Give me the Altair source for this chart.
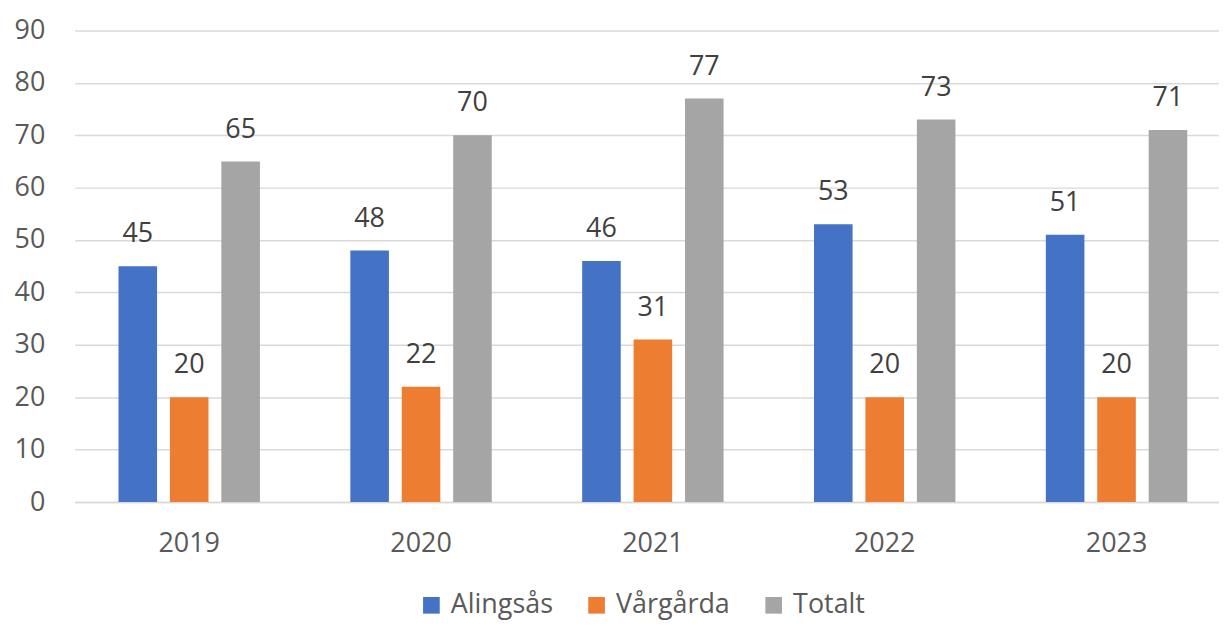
import altair as alt
import pandas as pd

years = ["2019", "2020", "2021", "2022", "2023"]
series = ["Alingsås", "Vårgårda", "Totalt"]
alingsas = [45, 48, 46, 53, 51]
vargarda = [20, 22, 31, 20, 20]
totalt = [65, 70, 77, 73, 71]
colors = ["#4472C4", "#ED7D31", "#A5A5A5"]

rows = []
for i, y in enumerate(years):
    for s, vals in zip(series, [alingsas, vargarda, totalt]):
        rows.append({"year": y, "series": s, "value": vals[i]})
df = pd.DataFrame(rows)

FONT = "Open Sans"
TXT = "#595959"
FS = 27

x = alt.X("year:N", sort=years, title=None,
          scale=alt.Scale(paddingInner=0.39, paddingOuter=0.163, align=0.58),
          axis=alt.Axis(labelAngle=0, ticks=False, domain=True, domainColor="#D9D9D9",
                        domainWidth=1.5, labelFontSize=FS, labelColor=TXT, labelFont=FONT,
                        labelPadding=29))
xo = alt.XOffset("series:N", sort=series, scale=alt.Scale(paddingInner=0.25))
y = alt.Y("value:Q", title=None,
          scale=alt.Scale(domain=[0, 90]),
          axis=alt.Axis(values=list(range(0, 91, 10)), domain=False, ticks=False,
                        gridColor="#D9D9D9", gridWidth=1.5, labelFontSize=FS,
                        labelColor=TXT, labelFont=FONT, labelPadding=30))
color = alt.Color("series:N", sort=series,
                  scale=alt.Scale(domain=series, range=colors),
                  legend=alt.Legend(title=None, orient="none", legendX=345, legendY=564,
                                    direction="horizontal", symbolType="square",
                                    symbolSize=280, symbolStrokeWidth=0, labelFontSize=FS,
                                    labelColor=TXT, labelFont=FONT, columnPadding=30,
                                    labelOffset=6))

bars = alt.Chart(df).mark_bar().encode(x=x, xOffset=xo, y=y, color=color)
labels = alt.Chart(df).mark_text(baseline="alphabetic", dy=-24, fontSize=FS, color="#404040",
                                 font=FONT).encode(x=x, xOffset=xo, y=y, text="value:Q")

chart = (bars + labels).properties(
    width=1150, height=474,
    autosize=alt.AutoSizeParams(type="none"),
    padding={"left": 67, "top": 21, "right": 0, "bottom": 119},
).configure_view(stroke=None)

chart.save("out.html", embed_options={"renderer": "svg", "actions": False})
